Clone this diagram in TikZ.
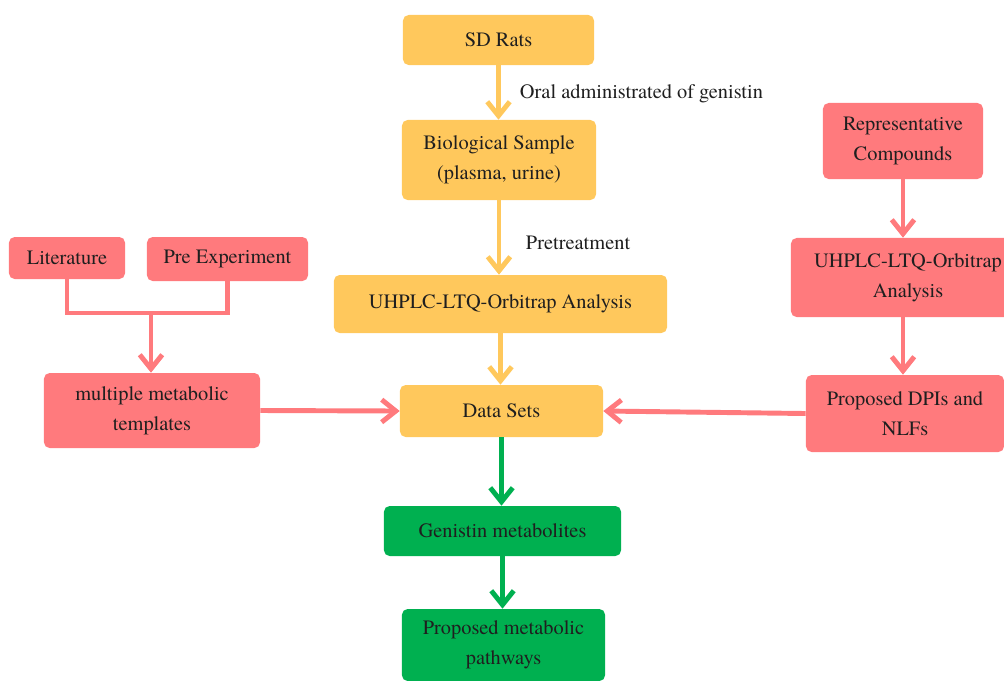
\documentclass[tikz,border=0pt]{standalone}
\usepackage{fontspec}
\setmainfont{texgyretermes}[Extension=.otf, UprightFont=*-regular, BoldFont=*-bold]
\newfontfamily\boxfont{texgyretermes}[Extension=.otf, UprightFont=*-regular]
\usetikzlibrary{arrows.meta}

\definecolor{stepyellow}{HTML}{FFC85C}
\definecolor{refpink}{HTML}{FF7A7D}
\definecolor{resultgreen}{HTML}{00B050}

\begin{document}
\begin{tikzpicture}[x=0.025cm,y=-0.025cm,
    box/.style={rounded corners=4pt, inner sep=2pt, align=center,
        text=black!88, font=\boxfont\fontsize{14.5pt}{21pt}\selectfont},
    ybox/.style={box, fill=stepyellow},
    pbox/.style={box, fill=refpink},
    gbox/.style={box, fill=resultgreen},
    flow/.style={line width=3.5pt, -{Straight Barb[length=10pt,width=16pt]}},
    label/.style={font=\boxfont\fontsize{14.5pt}{17pt}\selectfont, text=black!88, anchor=west}]

        \useasboundingbox (0,0) rectangle (1004,680);

        % Middle column
        \node[ybox, minimum width=4.775cm, minimum height=1.25cm] (rats) at (498.5,40) {SD Rats};
        \node[ybox, minimum width=4.85cm, minimum height=2cm] (sample) at (499,160) {Biological Sample\\(plasma, urine)};
        \node[ybox, minimum width=8.325cm, minimum height=1.45cm] (uhplc) at (500.5,304) {UHPLC-LTQ-Orbitrap Analysis};
        \node[ybox, minimum width=5.075cm, minimum height=1.3cm] (data) at (501.5,411) {Data Sets};
        \node[gbox, minimum width=5.925cm, minimum height=1.25cm] (metab) at (502.5,531) {Genistin metabolites};
        \node[gbox, minimum width=5.075cm, minimum height=1.8cm] (path) at (503.5,645) {Proposed metabolic\\pathways};

        % Left branch
        \node[pbox, minimum width=2.9cm, minimum height=1.05cm] (lit) at (67,258) {Literature};
        \node[pbox, minimum width=4.025cm, minimum height=1.1cm] (pre) at (227.5,259) {Pre Experiment};
        \node[pbox, minimum width=5.4cm, minimum height=1.875cm] (templ) at (152,410.5) {multiple metabolic\\templates};
        \coordinate (merge) at (151,313);

        % Right branch
        \node[pbox, minimum width=4cm, minimum height=1.9cm] (rep) at (903,141) {Representative\\Compounds};
        \node[pbox, minimum width=5.85cm, minimum height=1.975cm] (uhplcR) at (908,277.5) {UHPLC-LTQ-Orbitrap\\Analysis};
        \node[pbox, minimum width=4.95cm, minimum height=1.925cm] (dpi) at (905,413.5) {Proposed DPIs and\\NLFs};

        % Arrows
        \draw[flow, stepyellow] (rats.south) -- (rats.south |- sample.north);
        \draw[flow, stepyellow] (sample.south) -- (sample.south |- uhplc.north);
        \draw[flow, stepyellow] (uhplc.south) -- (uhplc.south |- data.north);
        \draw[flow, resultgreen] (data.south) -- (data.south |- metab.north);
        \draw[flow, resultgreen] (metab.south) -- (metab.south |- path.north);

        \draw[line width=3.5pt, refpink] (lit.south) |- (merge) -| (pre.south);
        \draw[flow, refpink] (merge) -- (merge |- templ.north);
        \draw[flow, refpink] (templ.east) -- (data.west);

        \draw[flow, refpink] (rep.south) -- (rep.south |- uhplcR.north);
        \draw[flow, refpink] (rep.south |- uhplcR.south) -- (rep.south |- dpi.north);
        \draw[flow, refpink] (dpi.west) -- (data.east);

        \node[label] (oral) at (515,94) {Oral administrated of genistin};
        \node[label] (pretr) at (521,243) {Pretreatment};

\end{tikzpicture}
\end{document}
